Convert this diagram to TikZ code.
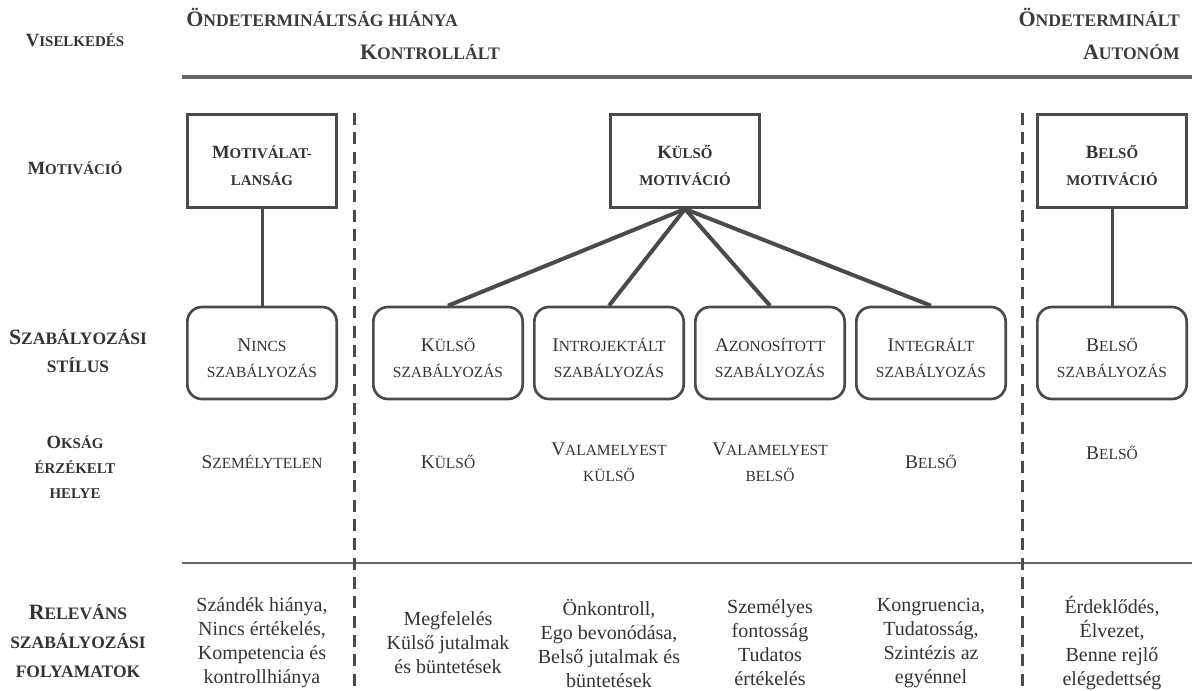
\documentclass[tikz,border=0pt]{standalone}
\usepackage{fontspec}
\setmainfont{Liberation Serif}
\usetikzlibrary{positioning}
\definecolor{inkgray}{HTML}{333333}
\definecolor{headgray}{HTML}{3C3C3C}
\definecolor{linegray}{HTML}{4A4A4A}
\makeatletter
\newcommand{\fsc}[1]{{\fontsize{\fpeval{0.8*\f@size}}{\f@baselineskip}\selectfont #1}}
\makeatother
\newcommand{\lowstrut}{\rule{0pt}{17pt}}

\begin{document}
\begin{tikzpicture}[x=0.75pt,y=-0.75pt]
  \tikzset{
    lbl/.style={font=\bfseries\fontsize{14}{21}\selectfont,text=inkgray,align=center,inner sep=0pt},
    biglbl/.style={lbl,font=\bfseries\fontsize{16.4}{21.5}\selectfont},
    head/.style={font=\bfseries\fontsize{16.5}{18}\selectfont,text=headgray,inner sep=0pt},
    motbox/.style={draw=linegray,line width=2pt,minimum width=112pt,minimum height=70pt,
      align=center,font=\bfseries\fontsize{14}{20}\selectfont,text=inkgray},
    szbox/.style={draw=linegray,line width=2pt,rounded corners=11pt,minimum width=112pt,
      minimum height=69pt,align=center,font=\fontsize{14.5}{19.5}\selectfont,text=inkgray},
    cell/.style={align=center,font=\fontsize{14.5}{19.5}\selectfont,text=inkgray,inner sep=0pt},
    proc/.style={align=center,font=\fontsize{15}{18}\selectfont,text=inkgray,inner sep=0pt},
    conn/.style={draw=linegray,line width=2.25pt},
    fan/.style={draw=linegray,line width=3pt},
    sepline/.style={draw=linegray,line width=2.25pt,dash pattern=on 9pt off 5.5pt},
  }
  \useasboundingbox (0,0) rectangle (1192,690);

  % row labels
  \node[lbl] (lviselkedes) at (75,40) {V\fsc{ISELKEDÉS}};
  \node[lbl] (lmotivacio) at (75,168) {M\fsc{OTIVÁCIÓ}};
  \node[biglbl] (lstilus) at (78,351) {S\fsc{ZABÁLYOZÁSI}\\\fsc{STÍLUS}};
  \node[lbl,font=\bfseries\fontsize{14}{19}\selectfont] (loksag) at (75,467) {O\fsc{KSÁG}\\\fsc{ÉRZÉKELT}\\\fsc{HELYE}};
  \node[biglbl,font=\bfseries\fontsize{16.4}{22}\selectfont] (lfolyamat) at (78,641) {R\fsc{ELEVÁNS}\\\fsc{SZABÁLYOZÁSI}\\\fsc{FOLYAMATOK}};

  % headings
  \node[head,anchor=west] (hhianya) at (186,17) {Ö\fsc{NDETERMINÁLTSÁG HIÁNYA}};
  \node[head,anchor=east] (hkontroll) at (500,52) {K\fsc{ONTROLLÁLT}};
  \node[head,anchor=east] (hondet) at (1180,17) {Ö\fsc{NDETERMINÁLT}};
  \node[head,anchor=east] (hauton) at (1180,52) {A\fsc{UTONÓM}};

  % rules
  \coordinate (topl) at (182,77);
  \coordinate (topr) at (1192,77);
  \coordinate (midl) at (182,563);
  \coordinate (midr) at (1192,563);
  \draw[draw=linegray!85,line width=2.5pt] (topl) -- (topr);
  \draw[draw=linegray!85,line width=1.6pt] (midl) -- (midr);

  \coordinate (sepat) at (354,113);
  \coordinate (sepab) at (354,690);
  \coordinate (sepbt) at (1022,113);
  \coordinate (sepbb) at (1022,690);
  \draw[sepline] (sepat) -- (sepab);
  \draw[sepline] (sepbt) -- (sepbb);

  % motivation boxes
  \node[motbox] (mnincs) at (262,161) {\lowstrut M\fsc{OTIVÁLAT-}\\\fsc{LANSÁG}};
  \node[motbox] (mkulso) at (685,161) {\lowstrut K\fsc{ÜLSŐ}\\\fsc{MOTIVÁCIÓ}};
  \node[motbox] (mbelso) at (1112,161) {\lowstrut B\fsc{ELSŐ}\\\fsc{MOTIVÁCIÓ}};

  % regulation styles
  \node[szbox] (sznincs) at (262,353) {\lowstrut N\fsc{INCS}\\\fsc{SZABÁLYOZÁS}};
  \node[szbox] (szk) at (448,353) {\lowstrut K\fsc{ÜLSŐ}\\\fsc{SZABÁLYOZÁS}};
  \node[szbox] (szi) at (609,353) {\lowstrut I\fsc{NTROJEKTÁLT}\\\fsc{SZABÁLYOZÁS}};
  \node[szbox] (sza) at (770,353) {\lowstrut A\fsc{ZONOSÍTOTT}\\\fsc{SZABÁLYOZÁS}};
  \node[szbox] (szg) at (931,353) {\lowstrut I\fsc{NTEGRÁLT}\\\fsc{SZABÁLYOZÁS}};
  \node[szbox] (szbelso) at (1112,353) {\lowstrut B\fsc{ELSŐ}\\\fsc{SZABÁLYOZÁS}};

  \draw[conn] (mnincs.south) -- (sznincs.north);
  \draw[conn] (mbelso.south) -- (szbelso.north);
  \foreach \n in {szk,szi,sza,szg}
    \draw[fan] (mkulso.south) -- (\n.north);

  % locus of causality
  \node[cell] (oknincs) at (262,462) {S\fsc{ZEMÉLYTELEN}};
  \node[cell] (okk) at (448,462) {K\fsc{ÜLSŐ}};
  \node[cell] (oki) at (609,462) {V\fsc{ALAMELYEST}\\\fsc{KÜLSŐ}};
  \node[cell] (oka) at (770,462) {V\fsc{ALAMELYEST}\\\fsc{BELSŐ}};
  \node[cell] (okg) at (931,462) {B\fsc{ELSŐ}};
  \node[cell] (okbelso) at (1112,453) {B\fsc{ELSŐ}};

  % processes
  \node[proc] (pnincs) at (262,643) {Szándék hiánya,\\Nincs értékelés,\\Kompetencia és\\kontrollhiánya};
  \node[proc] (pk) at (448,643) {Megfelelés\\Külső jutalmak\\és büntetések};
  \node[proc] (pi) at (609,643) {Önkontroll,\\Ego bevonódása,\\Belső jutalmak és\\büntetések};
  \node[proc] (pa) at (770,643) {Személyes\\fontosság\\Tudatos\\értékelés};
  \node[proc] (pg) at (931,643) {Kongruencia,\\Tudatosság,\\Szintézis az\\egyénnel};
  \node[proc] (pbelso) at (1112,643) {Érdeklődés,\\Élvezet,\\Benne rejlő\\elégedettség};
\end{tikzpicture}
\end{document}
